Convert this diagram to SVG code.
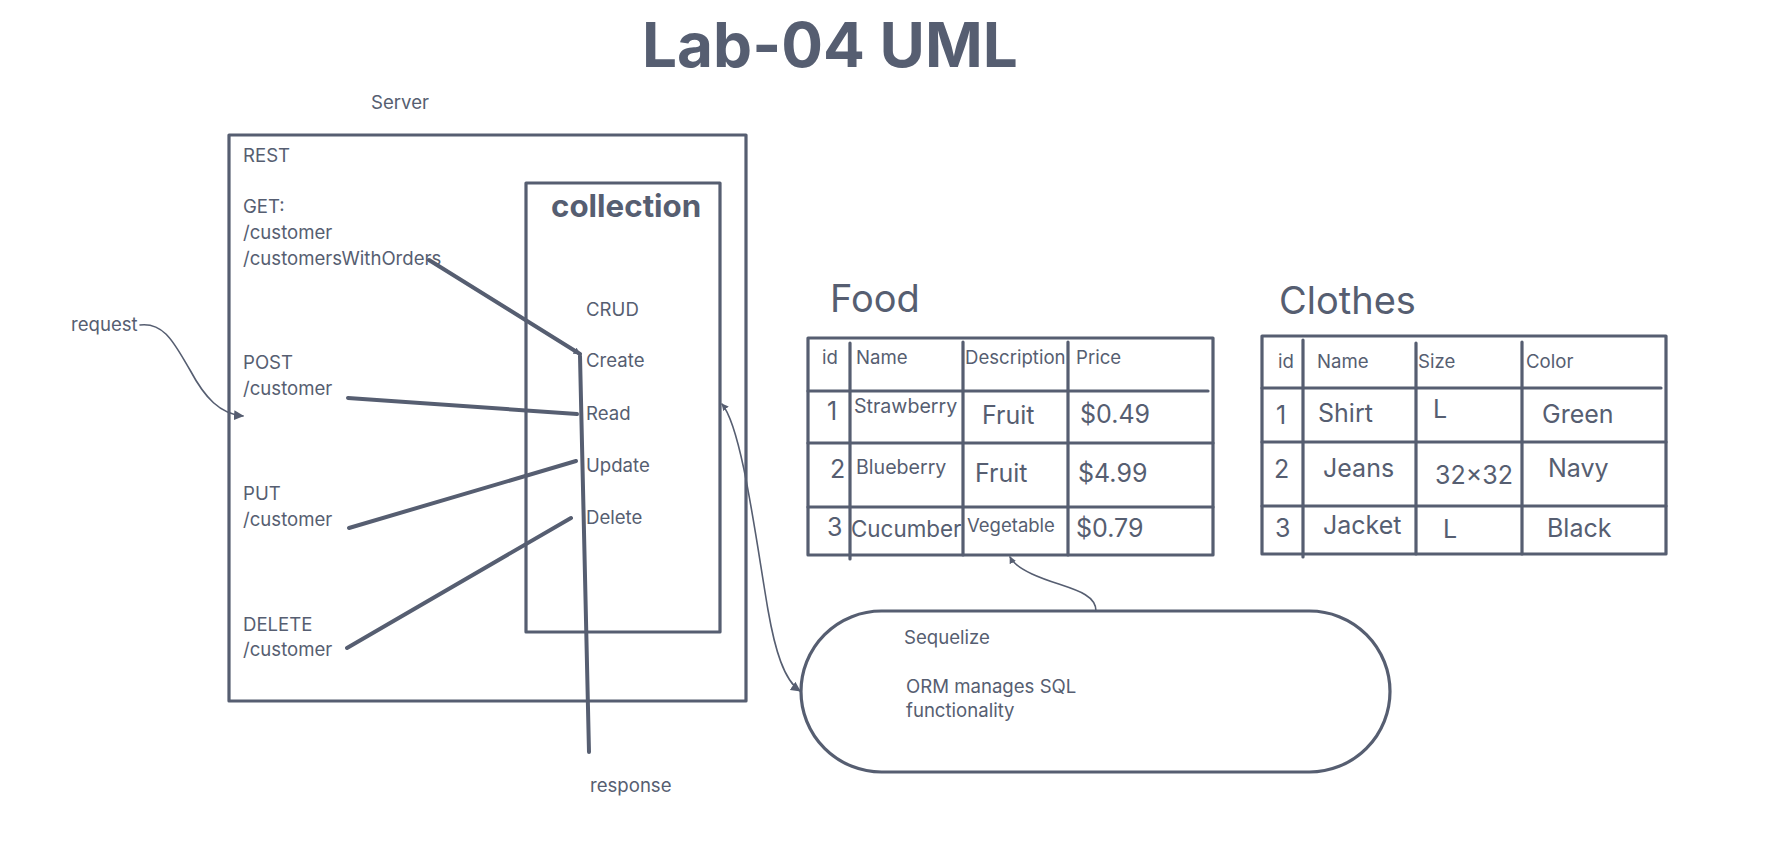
<svg xmlns="http://www.w3.org/2000/svg" width="1766" height="845" viewBox="0 0 1766 845">
<style>
text{font-family:Inter,"Liberation Sans",sans-serif;fill:#565e71}
.s{font-size:18.6px}
.m{font-size:19.6px}
.l{font-size:25px}
.h{font-size:38px}
.box{fill:none;stroke:#565e71;stroke-width:3.2;stroke-linejoin:round}
.ln{fill:none;stroke:#565e71;stroke-width:3.2;stroke-linecap:round}
.con{fill:none;stroke:#565e71;stroke-width:4;stroke-linecap:round}
.thin{fill:none;stroke:#565e71;stroke-width:1.6;stroke-linecap:round}
</style>
<defs>
<marker id="tri" viewBox="0 0 10 10" refX="9" refY="5" markerWidth="10" markerHeight="10" markerUnits="userSpaceOnUse" orient="auto-start-reverse">
<path d="M0,0 L10,5 L0,10 Z" fill="#565e71"/>
</marker>
<marker id="sm" viewBox="0 0 10 10" refX="9" refY="5" markerWidth="7" markerHeight="7" markerUnits="userSpaceOnUse" orient="auto-start-reverse">
<path d="M0,0 L10,5 L0,10 Z" fill="#565e71"/>
</marker>
</defs>
<rect width="1766" height="845" fill="#ffffff"/>
<text id="title" x="642" y="67" style="font-size:62px;font-weight:700">Lab-04 UML</text>

<g id="server">
<text class="s" x="371" y="109">Server</text>
<rect class="box" x="229" y="135" width="517" height="566"/>
<text class="s" x="243" y="162">REST</text>
<text class="s" x="243" y="213">GET:</text>
<text class="s" x="243" y="239">/customer</text>
<text class="s" x="243" y="265">/customersWithOrders</text>
<text class="s" x="243" y="369">POST</text>
<text class="s" x="243" y="395">/customer</text>
<text class="s" x="243" y="500">PUT</text>
<text class="s" x="243" y="526">/customer</text>
<text class="s" x="243" y="631">DELETE</text>
<text class="s" x="243" y="656">/customer</text>
</g>

<g id="collection">
<rect class="box" x="526" y="183" width="194" height="449"/>
<text x="551" y="217" style="font-size:31.3px;font-weight:700">collection</text>
<text class="s" x="586" y="316">CRUD</text>
<text class="s" x="586" y="367">Create</text>
<text class="s" x="586" y="420">Read</text>
<text class="s" x="586" y="472">Update</text>
<text class="s" x="586" y="524">Delete</text>
</g>

<g id="request">
<text class="s" x="71" y="331">request</text>
</g>
<g id="response">
<text class="s" x="590" y="792">response</text>
</g>

<g id="food">
<text class="h" x="830" y="312">Food</text>
<rect class="box" x="808" y="338" width="405" height="217"/>
<line class="ln" x1="808" y1="391" x2="1208" y2="391"/>
<line class="ln" x1="808" y1="443" x2="1213" y2="443"/>
<line class="ln" x1="808" y1="507" x2="1213" y2="507"/>
<line class="ln" x1="850" y1="343" x2="850" y2="559"/>
<line class="ln" x1="963" y1="342" x2="963" y2="555"/>
<line class="ln" x1="1068" y1="342" x2="1068" y2="555"/>
<text class="s" x="822" y="364">id</text>
<text class="s" x="856" y="364">Name</text>
<text class="s" x="965" y="364">Description</text>
<text class="s" x="1076" y="364">Price</text>
<text class="l" x="827" y="420">1</text>
<text class="m" x="854" y="413">Strawberry</text>
<text class="l" x="982" y="424">Fruit</text>
<text class="l" x="1080" y="423">$0.49</text>
<text class="l" x="830" y="478">2</text>
<text class="m" x="856" y="474">Blueberry</text>
<text class="l" x="975" y="482">Fruit</text>
<text class="l" x="1078" y="482">$4.99</text>
<text class="l" x="827" y="536">3</text>
<text style="font-size:22.4px" x="851" y="537">Cucumber</text>
<text style="font-size:18.5px" x="967" y="532">Vegetable</text>
<text class="l" x="1076" y="537">$0.79</text>
</g>

<g id="clothes">
<text class="h" x="1279" y="314">Clothes</text>
<rect class="box" x="1262" y="336" width="404" height="218"/>
<line class="ln" x1="1262" y1="388" x2="1661" y2="388"/>
<line class="ln" x1="1262" y1="442" x2="1666" y2="442"/>
<line class="ln" x1="1262" y1="506" x2="1666" y2="506"/>
<line class="ln" x1="1303" y1="340" x2="1303" y2="557"/>
<line class="ln" x1="1416" y1="343" x2="1416" y2="554"/>
<line class="ln" x1="1522" y1="342" x2="1522" y2="554"/>
<text class="s" x="1278" y="368">id</text>
<text class="s" x="1317" y="368">Name</text>
<text class="s" x="1418" y="368">Size</text>
<text class="s" x="1526" y="368">Color</text>
<text class="l" x="1276" y="424">1</text>
<text class="l" x="1318" y="422">Shirt</text>
<text class="l" x="1433" y="418">L</text>
<text class="l" x="1542" y="423">Green</text>
<text class="l" x="1274" y="478">2</text>
<text class="l" x="1323" y="477">Jeans</text>
<text class="l" x="1435" y="484">32×32</text>
<text class="l" x="1548" y="477">Navy</text>
<text class="l" x="1275" y="537">3</text>
<text class="l" x="1323" y="534">Jacket</text>
<text class="l" x="1443" y="538">L</text>
<text class="l" x="1547" y="537">Black</text>
</g>

<g id="sequelize">
<rect class="box" x="801" y="611" width="589" height="161" rx="80.5" ry="80.5"/>
<text class="s" x="904" y="644">Sequelize</text>
<text class="s" x="906" y="693">ORM manages SQL</text>
<text class="s" x="906" y="717">functionality</text>
</g>

<g id="connectors">
<path class="thin" d="M140,325 C165,322 175,345 190,370 C205,398 220,414 243,416" marker-end="url(#tri)"/>
<line class="con" x1="429" y1="260" x2="580" y2="354" marker-end="url(#sm)"/>
<line class="con" x1="580" y1="356" x2="589" y2="752"/>
<line class="con" x1="348" y1="398" x2="577" y2="414"/>
<line class="con" x1="349" y1="528" x2="576" y2="461"/>
<line class="con" x1="347" y1="648" x2="571" y2="518"/>
<path class="thin" d="M722,404 C742,428 756,540 768,610 C775,650 784,680 800,691" marker-start="url(#sm)" marker-end="url(#tri)"/>
<path class="thin" d="M1096,611 C1096,590 1062,588 1032,574 C1019,568 1013,563 1010,557" marker-end="url(#sm)"/>
</g>
</svg>
